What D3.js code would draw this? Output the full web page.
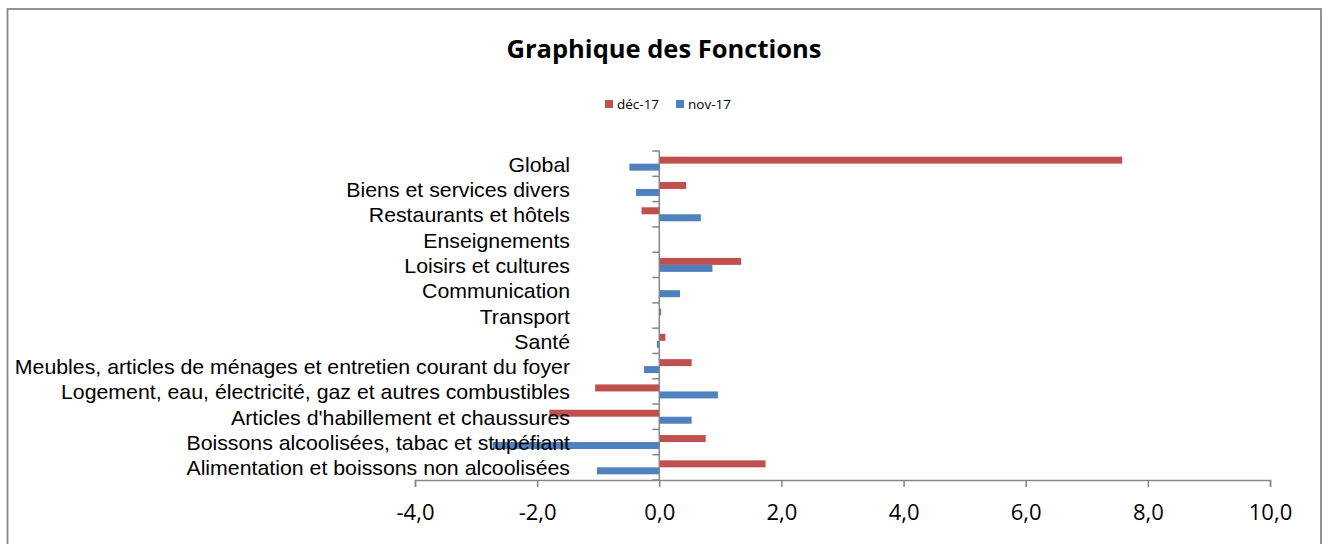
<!DOCTYPE html>
<html>
<head>
<meta charset="utf-8">
<script src="https://cdn.jsdelivr.net/npm/d3@7"></script>
<style>
html,body{margin:0;padding:0;background:#fff;}
svg{display:block;}
</style>
</head>
<body>
<svg id="chart" width="1330" height="544"></svg>
<script>
const categories = [
  "Global",
  "Biens et services divers",
  "Restaurants et hôtels",
  "Enseignements",
  "Loisirs et cultures",
  "Communication",
  "Transport",
  "Santé",
  "Meubles, articles de ménages et entretien courant du foyer",
  "Logement, eau, électricité, gaz et autres combustibles",
  "Articles d'habillement et chaussures",
  "Boissons alcoolisées, tabac et stupéfiant",
  "Alimentation et boissons non alcoolisées"
];
const seriesNames = ["déc-17", "nov-17"];
const decValues = [7.58, 0.44, -0.29, 0, 1.34, 0, 0.03, 0.10, 0.53, -1.05, -1.80, 0.76, 1.74];
const novValues = [-0.49, -0.38, 0.68, 0, 0.87, 0.34, 0, -0.04, -0.25, 0.96, 0.53, -2.73, -1.02];
const xTicks = [-4, -2, 0, 2, 4, 6, 8, 10];
const title = "Graphique des Fonctions";
const colors = ["#C0504D", "#4F81BD"];

const svg = d3.select("#chart");
const axisColor = "#868686";

// outer border
svg.append("rect").attr("x", 7.5).attr("y", 9).attr("width", 1313.5).attr("height", 545)
  .attr("fill", "#fff").attr("stroke", "#888").attr("stroke-width", 1.8);

const x = d3.scaleLinear().domain([-4, 10]).range([415, 1270]);
const y = d3.scaleBand().domain(categories).range([151, 480]).padding(0);
const inner = d3.scaleBand().domain(seriesNames).range([0, y.bandwidth()]).paddingInner(0).paddingOuter(0.81);

const data = categories.map((c, i) => ({cat: c, vals: [decValues[i], novValues[i]]}));

// bars
const g = svg.append("g");
data.forEach(d => {
  d.vals.forEach((v, k) => {
    if (v === 0) return;
    g.append("rect")
      .attr("x", x(Math.min(0, v)))
      .attr("y", y(d.cat) + inner(seriesNames[k]))
      .attr("width", Math.abs(x(v) - x(0)))
      .attr("height", inner.bandwidth())
      .attr("fill", colors[k]);
  });
});

// y axis line and ticks
const x0 = x(0);
svg.append("line").attr("x1", x0).attr("x2", x0).attr("y1", y.range()[0]).attr("y2", y.range()[1])
  .attr("stroke", axisColor).attr("stroke-width", 1.5);
const bounds = categories.map(c => y(c)).concat([y.range()[1]]);
svg.selectAll(".ytick").data(bounds).enter().append("line")
  .attr("x1", x0 - 7).attr("x2", x0).attr("y1", d => d).attr("y2", d => d)
  .attr("stroke", axisColor).attr("stroke-width", 1.5);

// x axis
const xAxis = d3.axisBottom(x).tickValues(xTicks).tickSize(7).tickPadding(20)
  .tickFormat(d => d3.format(".1f")(d).replace(".", ",").replace("\u2212", "-"));
const xg = svg.append("g").attr("transform", `translate(0,${y.range()[1]})`).call(xAxis);
xg.select(".domain").attr("stroke", axisColor).attr("stroke-width", 1.5);
xg.selectAll(".tick line").attr("stroke", axisColor).attr("stroke-width", 1.5);
xg.selectAll(".tick text").attr("fill", "#000").attr("font-family", "'Open Sans', sans-serif")
  .attr("font-size", 22).attr("dy", null).attr("dominant-baseline", "auto")
  .attr("y", 40);

// category labels
svg.selectAll(".clabel").data(categories).enter().append("text")
  .attr("transform", d => `translate(570,${y(d) + y.bandwidth() / 2 + 8}) scale(1.065,1)`)
  .attr("text-anchor", "end")
  .attr("font-family", "'Liberation Sans', Arial, sans-serif").attr("font-size", 20)
  .attr("fill", "#000").text(d => d);

// title
svg.append("text").attr("x", 664).attr("y", 58).attr("text-anchor", "middle")
  .attr("font-family", "'Open Sans', sans-serif").attr("font-weight", "bold").attr("font-size", 25.5)
  .attr("fill", "#000").text(title);

// legend
const legX = [605, 676];
seriesNames.forEach((s, k) => {
  svg.append("rect").attr("x", legX[k]).attr("y", 100).attr("width", 8).attr("height", 8).attr("fill", colors[k]);
  svg.append("text").attr("x", legX[k] + 12).attr("y", 109)
    .attr("font-family", "'Open Sans', sans-serif").attr("font-size", 13.5).attr("fill", "#000").text(s);
});
</script>
</body>
</html>
